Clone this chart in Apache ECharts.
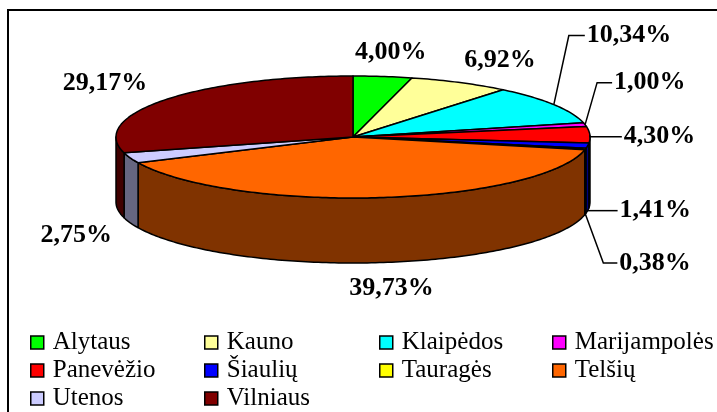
<!DOCTYPE html>
<html>
<head>
<meta charset="utf-8">
<script src="https://cdn.jsdelivr.net/npm/echarts@6/dist/echarts.min.js"></script>
<style>
html, body { margin: 0; padding: 0; background: #fff; }
#chart { width: 717px; height: 412px; }
</style>
</head>
<body>
<div id="chart"></div>
<script>
// apskritys and their shares (%)
var regions = ['Alytaus', 'Kauno', 'Klaipėdos', 'Marijampolės', 'Panevėžio', 'Šiaulių', 'Tauragės', 'Telšių', 'Utenos', 'Vilniaus'];
var shares = [4.00, 6.92, 10.34, 1.00, 4.30, 1.41, 0.38, 39.73, 2.75, 29.17];
var shareLabels = ['4,00%', '6,92%', '10,34%', '1,00%', '4,30%', '1,41%', '0,38%', '39,73%', '2,75%', '29,17%'];
var colors = ['#00ff00', '#ffff99', '#00ffff', '#ff00ff', '#ff0000', '#0000ff', '#ffff00', '#ff6600', '#ccccff', '#800000'];

// label placement relative to slice edge: [dx, dy, elbowDx] (elbowDx null -> no leader line)
var labelOffsets = [[8, -24, null], [40, -22, null], [33, -69, 15], [29, -42, 12], [34, 2, 0],
                    [32, 0, 0], [34, 49, 18], [12, 26, null], [-54, 12, null], [-60, -17, null]];

// 3d pie geometry
var cx = 353, cy = 137, rx = 237, ry = 61, depth = 65;
var serifFont = 'Liberation Serif';

var total = shares.reduce(function (a, b) { return a + b; }, 0);
var starts = [], acc = 0;
shares.forEach(function (v) { starts.push(acc); acc += v; });

function dark(hex) {
    var n = parseInt(hex.slice(1), 16);
    var r = (n >> 16) & 255, g = (n >> 8) & 255, b = n & 255;
    return 'rgb(' + Math.round(r / 2) + ',' + Math.round(g / 2) + ',' + Math.round(b / 2) + ')';
}
function pt(a, dy) {
    return [cx + rx * Math.sin(a), cy - ry * Math.cos(a) + (dy || 0)];
}
function arc(a0, a1, dy) {
    var pts = [], n = Math.max(2, Math.ceil((a1 - a0) / (Math.PI / 180)));
    for (var k = 0; k <= n; k++) pts.push(pt(a0 + (a1 - a0) * k / n, dy));
    return pts;
}

function makeRender(i) {
    return function (params, api) {
        var v = api.value(0);
        var a0 = starts[i] / total * 2 * Math.PI;
        var a1 = a0 + v / total * 2 * Math.PI;
        var children = [];

        // visible outer side (front half)
        var s = Math.max(a0, Math.PI / 2), e = Math.min(a1, 3 * Math.PI / 2);
        if (e > s) {
            var side = arc(s, e, 0).concat(arc(s, e, depth).reverse());
            children.push({ type: 'polygon', shape: { points: side },
                style: { fill: dark(colors[i]), stroke: '#000', lineWidth: 1.5, lineJoin: 'round' } });
        }
        // top face
        children.push({ type: 'polygon', shape: { points: [[cx, cy]].concat(arc(a0, a1, 0)) },
            style: { fill: colors[i], stroke: '#000', lineWidth: 1.5, lineJoin: 'round' } });

        // label
        var mid = (a0 + a1) / 2;
        var anchor = pt(mid, Math.cos(mid) < 0 ? depth : 0);
        var off = labelOffsets[i];
        var lx = anchor[0] + off[0], ly = anchor[1] + off[1];
        if (off[2] !== null) {
            children.push({ type: 'polyline',
                shape: { points: [anchor, [anchor[0] + off[2], ly], [lx - 2, ly]] },
                style: { stroke: '#000', lineWidth: 1.5, fill: null } });
        }
        children.push({ type: 'text', x: lx, y: ly,
            style: { text: shareLabels[i], fill: '#000',
                font: 'bold 26px "Liberation Serif", "Times New Roman", serif',
                align: off[2] !== null ? 'left' : 'center', verticalAlign: 'middle' } });

        return { type: 'group', children: children };
    };
}

var series = regions.map(function (name, i) {
    return {
        type: 'custom',
        name: name,
        coordinateSystem: 'none',
        itemStyle: { color: colors[i] },
        silent: true,
        data: [[shares[i]]],
        renderItem: makeRender(i)
    };
});

var legendBase = {
    orient: 'vertical',
    top: 329,
    padding: 0,
    itemGap: 1,
    itemWidth: 13,
    itemHeight: 13,
    icon: 'rect',
    selectedMode: false,
    itemStyle: { borderColor: '#000', borderWidth: 1.5 },
    formatter: '{n|{name}}',
    textStyle: {
        fontFamily: serifFont, fontSize: 25, color: '#000', lineHeight: 27,
        rich: { n: { fontFamily: serifFont, fontSize: 25, color: '#000', lineHeight: 27, padding: [0, 0, 0, 4] } }
    }
};
function legendCol(left, names) {
    return Object.assign({}, legendBase, { left: left, data: names });
}

var chart = echarts.init(document.getElementById('chart'));
chart.setOption({
    animation: false,
    backgroundColor: '#fff',
    textStyle: { fontFamily: serifFont },
    graphic: [{ type: 'rect', shape: { x: 8, y: 10, width: 720, height: 420 },
        style: { fill: 'transparent', stroke: '#000', lineWidth: 2 } }],
    legend: [
        legendCol(30, [regions[0], regions[4], regions[8]]),
        legendCol(204, [regions[1], regions[5], regions[9]]),
        legendCol(379, [regions[2], regions[6]]),
        legendCol(552, [regions[3], regions[7]])
    ],
    series: series
});
</script>
</body>
</html>
